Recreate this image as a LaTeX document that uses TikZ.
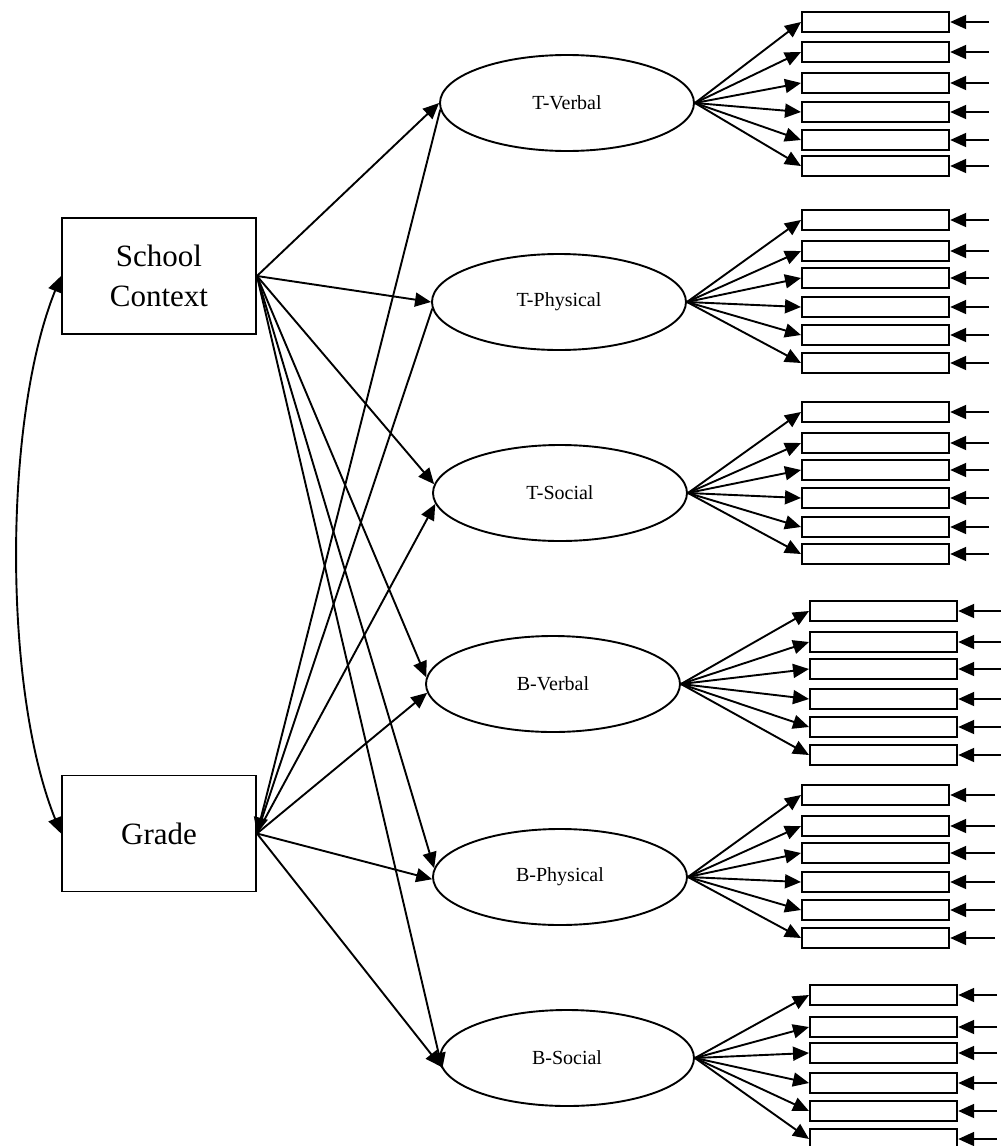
\documentclass[tikz,border=0pt]{standalone}
\usepackage{fontspec}
\setmainfont{Liberation Serif}
\usetikzlibrary{arrows.meta,shapes.geometric}
\begin{document}
\begin{tikzpicture}[x=1pt,y=-1pt,line width=1.9pt,
  >={Triangle[length=16pt,width=14pt]},
  latent/.style={ellipse,draw,line width=1.9pt,minimum width=254pt,minimum height=96pt,inner sep=0pt,font=\fontsize{20}{24}\selectfont},
  obs/.style={rectangle,draw,line width=1.9pt,minimum width=194pt,minimum height=116pt,align=center,font=\fontsize{31}{44}\selectfont},
  ind/.style={rectangle,draw,line width=2.2pt,minimum width=147pt,minimum height=20pt,inner sep=0pt,anchor=west}]
\useasboundingbox (0,0) rectangle (1001,1146);
\fill[white] (0,0) rectangle (1001,1146);
% observed
\node[obs] (sc) at (159,276) {School\\[-4pt]Context};
\node[obs] (gr) at (159,833.5) {Grade};
% latent
\node[latent] (tv) at (567,103) {T-Verbal};
\node[latent] (tp) at (559,302) {T-Physical};
\node[latent] (ts) at (560,493) {T-Social};
\node[latent] (bv) at (553,684) {B-Verbal};
\node[latent] (bp) at (560,877) {B-Physical};
\node[latent] (bs) at (567,1058) {B-Social};
% covariance
\draw[<->] (sc.west) .. controls (3,420) and (3,690) .. (gr.west);
% paths from School Context
\draw[->] (sc.east) -- (tv.west);
\draw[->] (sc.east) -- (tp.west);
\draw[->] (sc.east) -- (ts.176);
\draw[->] (sc.east) -- (bv.177);
\draw[->] (sc.east) -- (bp.176);
\draw[->] (sc.east) -- (bs.185);
% paths from Grade
\draw[->] (tv.183) -- (gr.east);
\draw (gr.east) -- (tp.183);
\draw[->] (gr.east) -- (ts.185);
\draw[->] (gr.east) -- (bv.184);
\draw[->] (gr.east) -- (bp.181);
\draw[->] (gr.east) -- (bs.184);
% indicators
\foreach \lat/\xl/\ex/\ys in {
  tv/801/989/{22,52,83,112,140,166},
  tp/801/989/{220,251,278,307,335,363},
  ts/801/989/{412,443,470,498,527,554},
  bv/809/1001/{611,642,669,699,727,755},
  bp/801/995/{795,826,853,882,910,938},
  bs/809/997/{995,1027,1053,1083,1111,1139}}{
  \foreach \y [count=\i] in \ys {
    \node[ind] (\lat\i) at (\xl,\y) {};
    \coordinate (\lat e\i) at (\ex,\y);
    \draw[->] (\lat.east) -- (\lat\i.west);
    \draw[->] (\lat e\i) -- (\lat\i.east);
  }
}
\end{tikzpicture}
\end{document}
